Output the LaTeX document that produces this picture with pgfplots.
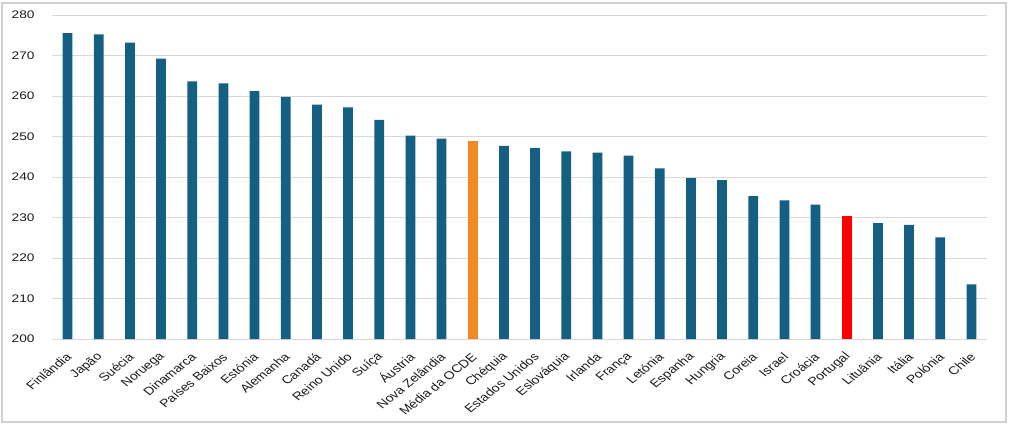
\documentclass[border=0pt]{standalone}
\usepackage{pgfplots}
\pgfplotsset{compat=1.18}
\usepackage{fontspec}
\setmainfont{Liberation Sans}
\definecolor{barblue}{HTML}{156082}
\definecolor{barorange}{HTML}{F28A22}
\definecolor{gridgray}{HTML}{D9D9D9}
\definecolor{framegray}{HTML}{D0D0D0}
\definecolor{txt}{HTML}{1A1A1A}
\begin{document}
\begin{tikzpicture}[x=1bp,y=1bp]
\path[use as bounding box] (0,0) rectangle (1010,424);
\draw[framegray, line width=2bp] (2,2) rectangle (1006,421);
\begin{axis}[
  at={(52bp,85bp)}, anchor=south west,
  scale only axis, width=935bp, height=324bp,
  ybar, bar width=9.7bp, bar shift=0pt,
  xmin=-0.5, xmax=29.5,
  ymin=200, ymax=280,
  ytick={200,210,...,280},
  xtick={0,...,29},
  xticklabels={Finlândia,Japão,Suécia,Noruega,Dinamarca,Países Baixos,Estónia,Alemanha,Canadá,Reino Unido,Suíça,Áustria,Nova Zelândia,Média da OCDE,Chéquia,Estados Unidos,Eslováquia,Irlanda,França,Letónia,Espanha,Hungria,Coreia,Israel,Croácia,Portugal,Lituânia,Itália,Polónia,Chile},
  axis line style={draw=none},
  tick style={draw=none},
  major tick length=0pt,
  ymajorgrids, grid style={gridgray, line width=1bp},
  /pgf/number format/assume math mode=true,
  yticklabel style={font=\fontsize{11}{13}\selectfont, text=txt, anchor=east, xshift=-13bp, xscale=1.25},
  xticklabel style={font=\fontsize{11.3}{13}\selectfont, text=txt, inner sep=0pt, xshift=1.5bp, yshift=-16bp, cm={0.884,0.707,-0.884,0.707,(0,0)}, anchor=east},
  clip=false,
]
\addplot[fill=barblue, draw=none] coordinates {
(0,275.5) (1,275.2) (2,273.2) (3,269.2) (4,263.6) (5,263.1) (6,261.2) (7,259.8) (8,257.9) (9,257.2)
(10,254.1) (11,250.2) (12,249.5) (14,247.7) (15,247.1) (16,246.3) (17,246.0) (18,245.3) (19,242.1)
(20,239.7) (21,239.2) (22,235.3) (23,234.2) (24,233.2) (26,228.6) (27,228.2) (28,225.1) (29,213.5)
};
\addplot[fill=barorange, draw=none] coordinates {(13,249.0)};
\addplot[fill=red, draw=none] coordinates {(25,230.4)};
\end{axis}
\end{tikzpicture}
\end{document}
